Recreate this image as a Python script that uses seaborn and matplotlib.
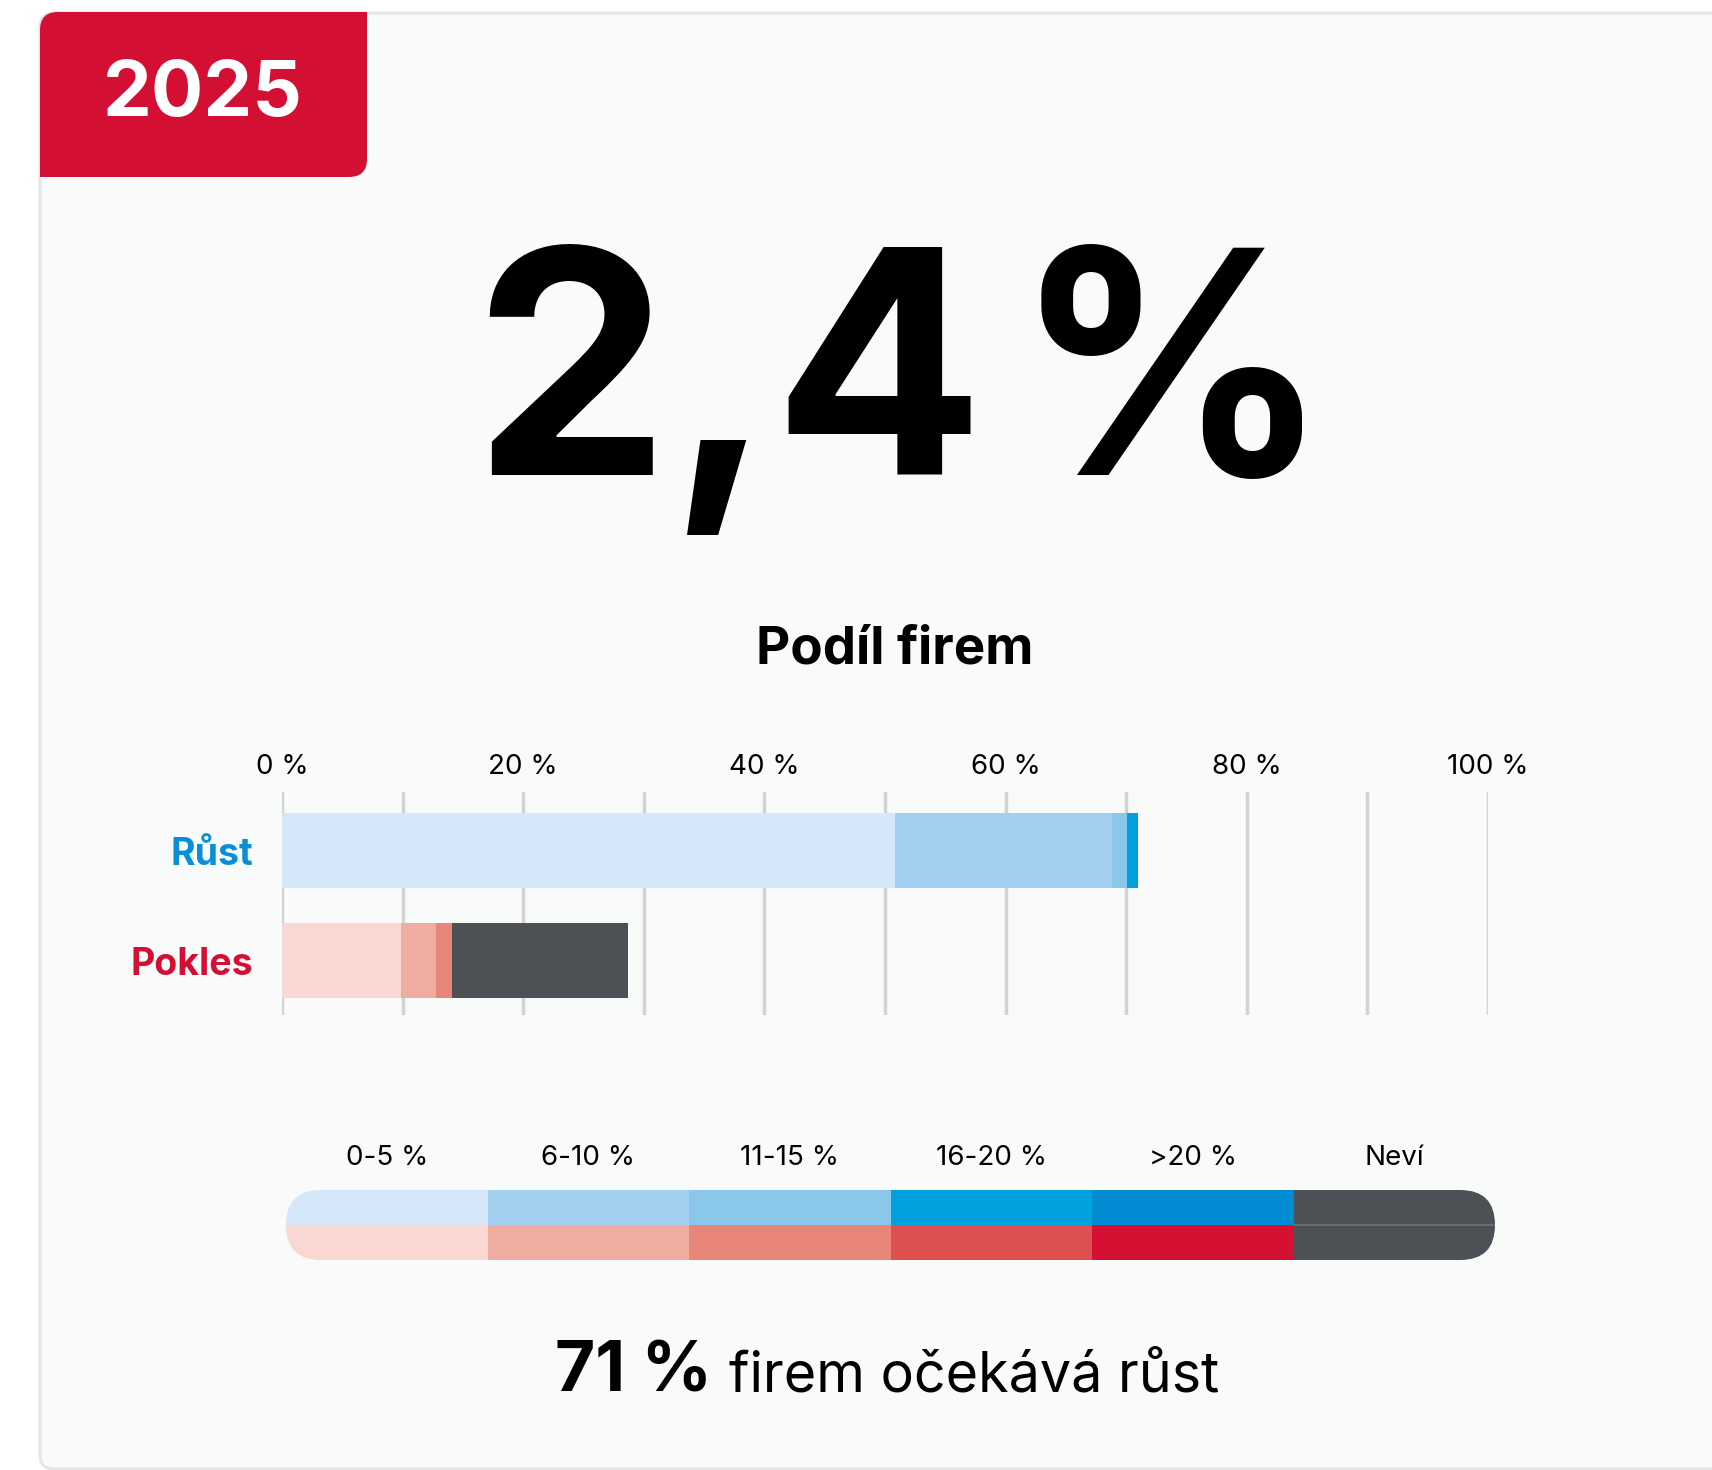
import numpy as np
import pandas as pd
import matplotlib
matplotlib.use("Agg")
import matplotlib.pyplot as plt
from matplotlib.patches import FancyBboxPatch, Rectangle
from matplotlib.colors import ListedColormap
import seaborn as sns

# --- data ---
year = "2025"
headline_value = "2,4"
headline_unit = "%"
subtitle = "Podíl firem"
rows = ["Růst", "Pokles"]
row_colors = ["#0a8fd6", "#d31034"]
bands = ["0-5 %", "6-10 %", "11-15 %", "16-20 %", ">20 %", "Neví"]
rust = [50.8, 18.0, 1.3, 0.9, 0.0, 0.0]
pokles = [9.9, 2.9, 1.3, 0.0, 0.0, 14.6]
blue_cols = ["#d5e7f8", "#a3cff0", "#8bc6eb", "#00a1dc", "#008bd3", "#4d5055"]
red_cols = ["#f9d7d2", "#efada1", "#e8867a", "#df5150", "#d41132", "#4d5055"]
tick_vals = [0, 20, 40, 60, 80, 100]
growth_share = 71

W, H = 1712, 1470
sns.set_theme(style="white")
plt.rcParams["font.family"] = ["Inter", "DejaVu Sans"]

fig = plt.figure(figsize=(W / 100, H / 100), dpi=100, facecolor="white")

# background axes in pixel units
bg = fig.add_axes([0, 0, 1, 1])
bg.set_xlim(0, W)
bg.set_ylim(H, 0)
bg.axis("off")

card = FancyBboxPatch((40, 13), W, H - 14, boxstyle="round,pad=0,rounding_size=14",
                      fc="#f9fafa", ec="#e4e6e9", lw=2.2)
bg.add_patch(card)

# red year tab
tab = FancyBboxPatch((40, 12), 327, 165, boxstyle="round,pad=0,rounding_size=18",
                     fc="#d31034", ec="none")
bg.add_patch(tab)
bg.add_patch(Rectangle((367 - 25, 12), 25, 25, fc="#d31034", ec="none"))
bg.add_patch(Rectangle((40, 177 - 25), 25, 25, fc="#d31034", ec="none"))
bg.text(203, 95, year, color="white", fontsize=56, fontweight="bold",
        ha="center", va="center")

# headline figure
bg.text(472, 475, headline_value, color="black", fontsize=225, fontweight="bold",
        ha="left", va="baseline")
bg.text(1330, 475, headline_unit, color="black", fontsize=225, fontweight="bold",
        ha="right", va="baseline")
bg.text(895, 650, subtitle, color="black", fontsize=38, fontweight="bold",
        ha="center", va="center")

bg.text(712, 1392, f"{growth_share} %", color="black", fontsize=50,
        fontweight="bold", ha="right", va="baseline")
bg.text(729, 1392, "firem očekává růst", color="black", fontsize=40,
        ha="left", va="baseline")

# --- stacked bars ---
ax = fig.add_axes([282 / W, 1 - 1015 / H, 1206 / W, 223 / H])
ax.set_facecolor("none")

cum_r = np.cumsum(rust)
cum_p = np.cumsum(pokles)
for i in reversed(range(len(bands))):
    seg = pd.DataFrame({"row": rows, "cum": [cum_r[i], cum_p[i]]})
    sns.barplot(data=seg, x="cum", y="row", hue="row", order=rows, hue_order=rows,
                palette={rows[0]: blue_cols[i], rows[1]: red_cols[i]},
                orient="h", width=0.68, linewidth=0, errorbar=None,
                saturation=1, legend=False, ax=ax, zorder=3)

ax.set_xlim(0, 100)
ax.set_ylim(1.495, -0.532)
ax.set_xticks(tick_vals)
ax.set_xticklabels([f"{v} %" for v in tick_vals])
ax.set_xticks(range(10, 100, 20), minor=True)
ax.xaxis.tick_top()
ax.grid(axis="x", which="both", color="#d3d3d3", lw=2.5)
ax.set_axisbelow(True)
ax.tick_params(axis="x", which="both", length=0, pad=9, labelsize=20,
               labelcolor="black")
ax.tick_params(axis="y", length=0, pad=21)
for lbl, c in zip(ax.get_yticklabels(), row_colors):
    lbl.set_color(c)
    lbl.set_fontweight("bold")
    lbl.set_fontsize(27)
ax.set_xlabel("")
ax.set_ylabel("")
for s in ax.spines.values():
    s.set_visible(False)

# --- colour key ---
lx0, lx1, ly0, ly1 = 286, 1495, 1190, 1260
ax2 = fig.add_axes([lx0 / W, 1 - ly1 / H, (lx1 - lx0) / W, (ly1 - ly0) / H])
codes = np.arange(2 * len(bands)).reshape(2, len(bands))
sns.heatmap(codes, cmap=ListedColormap(blue_cols + red_cols), vmin=-0.5,
            vmax=codes.size - 0.5, cbar=False, xticklabels=bands,
            yticklabels=False, ax=ax2)
ux = (lx1 - lx0) / len(bands)
uy = (ly1 - ly0) / 2
r = uy / ux
clip = FancyBboxPatch((0, 0), len(bands), 2, boxstyle=f"round,pad=0,rounding_size={r}",
                      mutation_aspect=1 / r, fc="none", ec="none",
                      transform=ax2.transData)
ax2.add_patch(clip)
ax2.collections[0].set_clip_path(clip)
sep = ax2.plot([len(bands) - 1, len(bands)], [1, 1], color="#6f7277", lw=1.2)[0]
sep.set_clip_path(clip)
ax2.xaxis.tick_top()
ax2.tick_params(axis="x", length=0, pad=14, labelsize=20, labelcolor="black",
                labelrotation=0)
ax2.set_facecolor("none")
for s in ax2.spines.values():
    s.set_visible(False)

fig.savefig("out.png", dpi=100, facecolor="white")
